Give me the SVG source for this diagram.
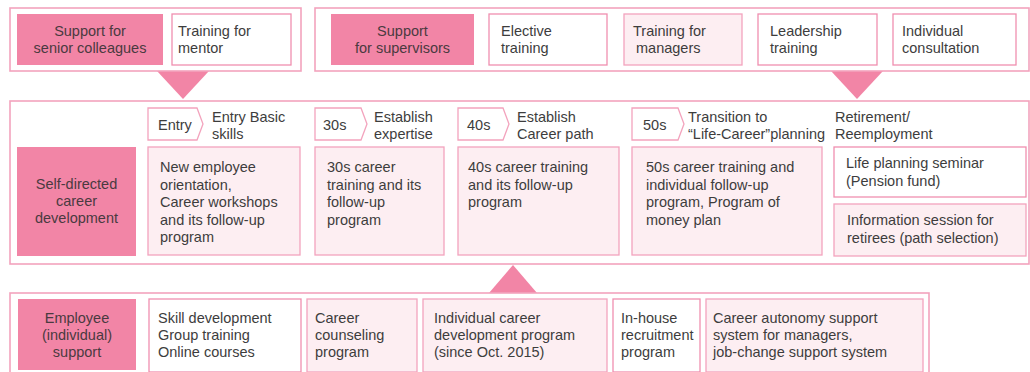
<svg xmlns="http://www.w3.org/2000/svg" width="1030" height="372" viewBox="0 0 1030 372">
<style>
text{font-family:"Liberation Sans",Arial,sans-serif;font-size:14.5px;fill:#3d3d3d}
.outer{fill:#fff;stroke:#f3a3bd;stroke-width:1.6}
.key{fill:#f285a6;stroke:none}
.w{fill:#fff;stroke:#f08fb0;stroke-width:1.3}
.lp{fill:#fdeef2;stroke:#f3a3bd;stroke-width:1.3}
.tag{fill:#fff;stroke:#f3a3bd;stroke-width:1.3}
.tri{fill:#f285a6}
.c{text-anchor:middle;fill:#4a3a40}
</style>
<rect width="1030" height="372" fill="#fff"/>
<g id="connectors">
<polygon class="tri" points="157,71 209,71 183,99"/>
<polygon class="tri" points="831,71 883,71 857,99"/>
<polygon class="tri" points="489,293 537,293 513,265"/>
</g>
<g id="senior-group">
<rect class="outer" x="10" y="8" width="291" height="63"/>
</g>
<g id="support-senior">
<rect class="key" x="17" y="14" width="146" height="51"/>
<text class="c" x="90" y="36">Support for</text>
<text class="c" x="90" y="53">senior colleagues</text>
</g>
<g id="training-mentor">
<rect class="w" x="172" y="14" width="119" height="51"/>
<text x="178" y="36">Training for</text>
<text x="178" y="53">mentor</text>
</g>
<g id="supervisor-group">
<rect class="outer" x="315" y="8" width="714" height="63"/>
</g>
<g id="support-supervisors">
<rect class="key" x="331" y="14" width="143" height="51"/>
<text class="c" x="402.5" y="36">Support</text>
<text class="c" x="402.5" y="53">for supervisors</text>
</g>
<g id="elective">
<rect class="w" x="489" y="14" width="118" height="51"/>
<text x="501" y="36">Elective</text>
<text x="501" y="53">training</text>
</g>
<g id="training-managers">
<rect class="lp" x="624" y="14" width="118" height="51"/>
<text x="633" y="36">Training for</text>
<text x="636" y="53">managers</text>
</g>
<g id="leadership">
<rect class="w" x="758" y="14" width="119" height="51"/>
<text x="770" y="36">Leadership</text>
<text x="770" y="53">training</text>
</g>
<g id="individual-consultation">
<rect class="w" x="893" y="14" width="123" height="51"/>
<text x="902" y="36">Individual</text>
<text x="902" y="53">consultation</text>
</g>
<g id="career-group">
<rect class="outer" x="10" y="101" width="1019" height="163"/>
</g>
<g id="self-directed">
<rect class="key" x="17" y="147" width="119" height="109"/>
<text class="c" x="76.5" y="189">Self-directed</text>
<text class="c" x="76.5" y="206">career</text>
<text class="c" x="76.5" y="223">development</text>
</g>
<g id="entry">
<polygon class="tag" points="148,108 197,108 203,124 197,140 148,140"/>
<text x="158" y="130">Entry</text>
<text x="212" y="122">Entry Basic</text>
<text x="212" y="138.5">skills</text>
<rect class="lp" x="148" y="147" width="152" height="108"/>
<text x="160" y="172">New employee</text>
<text x="160" y="189.5">orientation,</text>
<text x="160" y="207">Career workshops</text>
<text x="160" y="224.5">and its follow-up</text>
<text x="160" y="242">program</text>
</g>
<g id="s30">
<polygon class="tag" points="315,108 361,108 367,124 361,140 315,140"/>
<text x="323" y="130">30s</text>
<text x="374" y="122">Establish</text>
<text x="374" y="138.5">expertise</text>
<rect class="lp" x="315" y="147" width="129" height="108"/>
<text x="327" y="172">30s career</text>
<text x="327" y="189.5">training and its</text>
<text x="327" y="207">follow-up</text>
<text x="327" y="224.5">program</text>
</g>
<g id="s40">
<polygon class="tag" points="458,108 503,108 509,124 503,140 458,140"/>
<text x="467" y="130">40s</text>
<text x="517" y="122">Establish</text>
<text x="517" y="138.5">Career path</text>
<rect class="lp" x="458" y="147" width="161" height="108"/>
<text x="468" y="172">40s career training</text>
<text x="468" y="189.5">and its follow-up</text>
<text x="468" y="207">program</text>
</g>
<g id="s50">
<polygon class="tag" points="632,108 678,108 684,124 678,140 632,140"/>
<text x="643" y="130">50s</text>
<text x="688" y="122">Transition to</text>
<text x="688" y="138.5">“Life-Career”planning</text>
<rect class="lp" x="632" y="147" width="190" height="108"/>
<text x="646" y="172">50s career training and</text>
<text x="646" y="189.5">individual follow-up</text>
<text x="646" y="207">program, Program of</text>
<text x="646" y="224.5">money plan</text>
</g>
<g id="retirement">
<text x="835" y="122">Retirement/</text>
<text x="835" y="138.5">Reemployment</text>
</g>
<g id="life-planning">
<rect class="w" x="834" y="147" width="192" height="50"/>
<text x="846" y="168">Life planning seminar</text>
<text x="846" y="185.5">(Pension fund)</text>
</g>
<g id="info-session">
<rect class="lp" x="834" y="204" width="192" height="52"/>
<text x="847" y="225">Information session for</text>
<text x="847" y="242.5">retirees (path selection)</text>
</g>
<g id="employee-group">
<rect class="outer" x="10" y="293" width="919" height="85"/>
</g>
<g id="employee-support">
<rect class="key" x="18" y="299" width="118" height="71"/>
<text class="c" x="77" y="323">Employee</text>
<text class="c" x="77" y="340">(individual)</text>
<text class="c" x="77" y="357">support</text>
</g>
<g id="skill">
<rect class="w" x="149" y="299" width="152" height="73"/>
<text x="158" y="323">Skill development</text>
<text x="158" y="340">Group training</text>
<text x="158" y="357">Online courses</text>
</g>
<g id="counseling">
<rect class="lp" x="307" y="299" width="110" height="73"/>
<text x="315" y="323">Career</text>
<text x="315" y="340">counseling</text>
<text x="315" y="357">program</text>
</g>
<g id="individual-career">
<rect class="lp" x="423" y="299" width="184" height="73"/>
<text x="434" y="323">Individual career</text>
<text x="434" y="340">development program</text>
<text x="434" y="357">(since Oct. 2015)</text>
</g>
<g id="in-house">
<rect class="w" x="613" y="299" width="87" height="73"/>
<text x="621" y="323">In-house</text>
<text x="621" y="340">recruitment</text>
<text x="621" y="357">program</text>
</g>
<g id="autonomy">
<rect class="lp" x="706" y="299" width="217" height="73"/>
<text x="713" y="323">Career autonomy support</text>
<text x="713" y="340">system for managers,</text>
<text x="713" y="357">job-change support system</text>
</g>
</svg>
